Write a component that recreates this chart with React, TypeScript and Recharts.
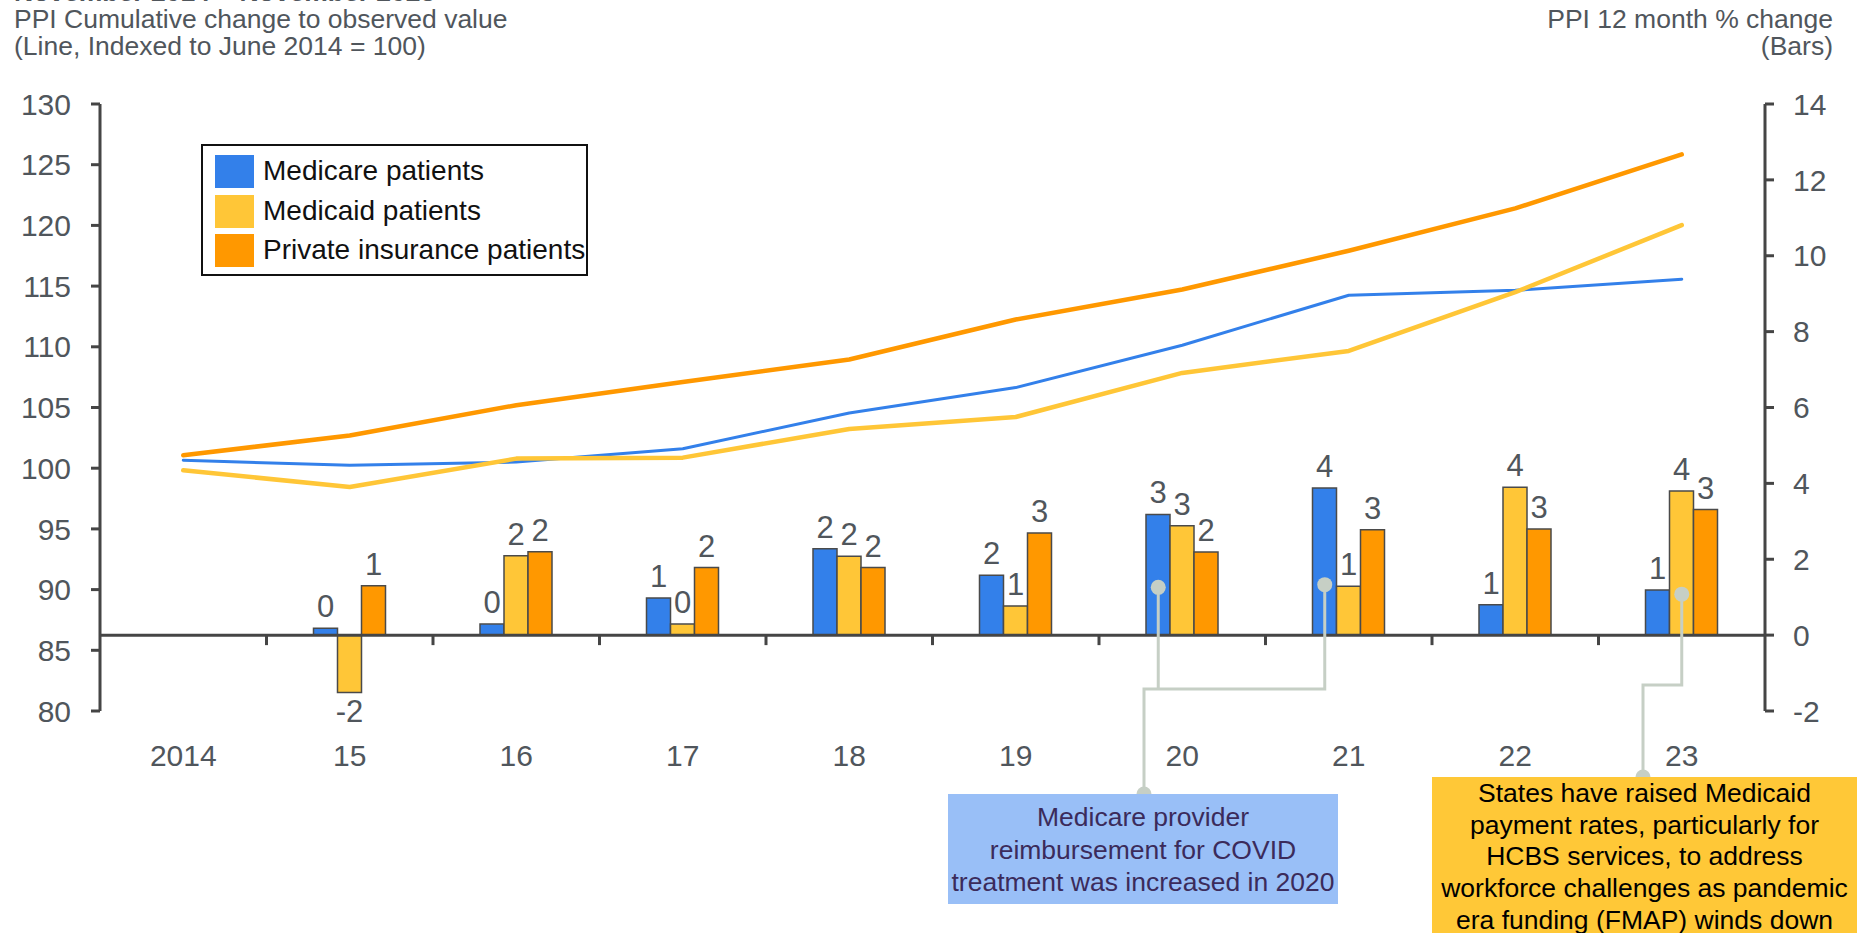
import {
  ComposedChart,
  Bar,
  Line,
  XAxis,
  YAxis,
  Legend,
  LabelList,
  ReferenceLine,
} from 'recharts'

const years = ['2014', '15', '16', '17', '18', '19', '20', '21', '22', '23']

// lines, left axis (indexed to June 2014 = 100)
const medicareIndex = [100.65, 100.24, 100.51, 101.6, 104.55, 106.64, 110.13, 114.25, 114.65, 115.57]
const medicaidIndex = [99.83, 98.45, 100.79, 100.87, 103.23, 104.22, 107.85, 109.66, 114.5, 120.02]
const privateIndex = [101.06, 102.7, 105.19, 107.1, 108.95, 112.25, 114.72, 117.91, 121.4, 125.85]

// bars, right axis (12 month % change)
const medicareChange = [null, 0.18, 0.29, 0.98, 2.28, 1.58, 3.18, 3.88, 0.8, 1.19]
const medicaidChange = [null, -1.51, 2.09, 0.29, 2.08, 0.77, 2.88, 1.29, 3.9, 3.8]
const privateChange = [null, 1.3, 2.2, 1.78, 1.78, 2.69, 2.19, 2.78, 2.8, 3.31]

const leftTicks = [80, 85, 90, 95, 100, 105, 110, 115, 120, 125, 130]
const rightTicks = [-2, 0, 2, 4, 6, 8, 10, 12, 14]

// legend order follows the bars
const barKeys = ['medicareChange', 'medicaidChange', 'privateChange']

const data = years.map((year, i) => ({
  year,
  medicareIndex: medicareIndex[i],
  medicaidIndex: medicaidIndex[i],
  privateIndex: privateIndex[i],
  medicareChange: medicareChange[i],
  medicaidChange: medicaidChange[i],
  privateChange: privateChange[i],
}))

const FONT = '"Liberation Sans", Arial, Helvetica, sans-serif'
const GREY_TEXT = '#50565c'
const AXIS = '#454545'
const BLUE = '#3380ea'
const YELLOW = '#ffc637'
const ORANGE = '#ff9800'
const CONNECTOR = '#c6cfc5'

const W = 1857
const H = 933
const PLOT_TOP = 104
const LEFT_AXIS_W = 100
const RIGHT_AXIS_W = 92
const X_AXIS_H = 222
const PLOT_LEFT = LEFT_AXIS_W
const PLOT_RIGHT = W - RIGHT_AXIS_W
const PLOT_BOTTOM = H - X_AXIS_H
const BAND = (PLOT_RIGHT - PLOT_LEFT) / years.length
const BAR = 24
const R_MIN = -2
const R_MAX = 14

const catX = (i: number) => PLOT_LEFT + BAND * (i + 0.5)
const rightY = (v: number) =>
  PLOT_TOP + ((R_MAX - v) / (R_MAX - R_MIN)) * (PLOT_BOTTOM - PLOT_TOP)
const zeroY = rightY(0)

function XTick(props: any) {
  const { x, index, payload } = props
  return (
    <g>
      {index > 0 && (
        <line
          x1={x - BAND / 2}
          x2={x - BAND / 2}
          y1={zeroY}
          y2={zeroY + 10}
          stroke={AXIS}
          strokeWidth={3}
        />
      )}
      <text
        x={x}
        y={PLOT_BOTTOM + 55}
        textAnchor="middle"
        fontSize={30}
        fontFamily={FONT}
        fill={GREY_TEXT}
      >
        {payload.value}
      </text>
    </g>
  )
}

function BarValue(props: any) {
  const { x, y, width, height, value } = props
  if (value == null) return null
  const top = Math.min(y, y + height)
  const bottom = Math.max(y, y + height)
  const ty = value >= 0 ? top - 11 : bottom + 30
  return (
    <text
      x={x + width / 2}
      y={ty}
      textAnchor="middle"
      fontSize={31}
      fontFamily={FONT}
      fill={GREY_TEXT}
    >
      {Math.round(value)}
    </text>
  )
}

function LegendBox({ payload }: any) {
  const items = (payload || [])
    .filter((e: any) => barKeys.includes(e.dataKey))
    .sort((a: any, b: any) => barKeys.indexOf(a.dataKey) - barKeys.indexOf(b.dataKey))
  return (
    <div
      style={{
        position: 'relative',
        width: 387,
        height: 132,
        border: '2px solid #111',
        boxSizing: 'border-box',
        background: '#fff',
        fontFamily: FONT,
      }}
    >
      {items.map((entry: any, i: number) => (
        <div key={entry.dataKey}>
          <div
            style={{
              position: 'absolute',
              left: 12,
              top: 9 + i * 39.5,
              width: 39,
              height: 33,
              background: entry.color,
            }}
          />
          <div
            style={{
              position: 'absolute',
              left: 60,
              top: 11 + i * 39.5,
              fontSize: 28,
              lineHeight: '28px',
              color: '#111',
              whiteSpace: 'nowrap',
            }}
          >
            {entry.value}
          </div>
        </div>
      ))}
    </div>
  )
}

const covidNote = ['Medicare provider', 'reimbursement for COVID', 'treatment was increased in 2020']
const medicaidNote = [
  'States have raised Medicaid',
  'payment rates, particularly for',
  'HCBS services, to address',
  'workforce challenges as pandemic',
  'era funding (FMAP) winds down',
]

function Connectors() {
  const d1 = { x: catX(6) - BAR, y: rightY(1.26) }
  const d2 = { x: catX(7) - BAR, y: rightY(1.33) }
  const d3 = { x: catX(9), y: rightY(1.08) }
  const joint1 = 689
  const joint2 = 685
  const box1 = { x: 1144, y: 794 }
  const box2 = { x: 1643, y: 777 }
  return (
    <svg
      width={W}
      height={H}
      style={{ position: 'absolute', left: 0, top: 0, pointerEvents: 'none' }}
    >
      <g fill="none" stroke={CONNECTOR} strokeWidth={3}>
        <path d={`M${d1.x},${d1.y} V${joint1}`} />
        <path d={`M${d2.x},${d2.y} V${joint1} H${box1.x} V${box1.y}`} />
        <path d={`M${d3.x},${d3.y} V${joint2} H${box2.x} V${box2.y}`} />
      </g>
      <g fill={CONNECTOR}>
        {[d1, d2, d3, box1, box2].map((p, i) => (
          <circle key={i} cx={p.x} cy={p.y} r={7.5} />
        ))}
      </g>
    </svg>
  )
}

export default function App() {
  return (
    <div
      style={{
        position: 'absolute',
        left: 0,
        top: 0,
        width: W,
        height: H,
        overflow: 'hidden',
        background: '#fff',
        fontFamily: FONT,
      }}
    >
      <div
        style={{
          position: 'absolute',
          left: 14,
          top: -21,
          fontSize: 26.5,
          lineHeight: '27px',
          color: GREY_TEXT,
          whiteSpace: 'nowrap',
        }}
      >
        <div style={{ fontWeight: 'bold' }}>November 2014 – November 2023</div>
        <div>PPI Cumulative change to observed value</div>
        <div>(Line, Indexed to June 2014 = 100)</div>
      </div>
      <div
        style={{
          position: 'absolute',
          right: 24,
          top: 6,
          fontSize: 26.5,
          lineHeight: '27px',
          color: GREY_TEXT,
          textAlign: 'right',
          whiteSpace: 'nowrap',
        }}
      >
        <div>PPI 12 month % change</div>
        <div>(Bars)</div>
      </div>

      <div style={{ position: 'absolute', left: 0, top: 0 }}>
        <ComposedChart
          width={W}
          height={H}
          data={data}
          margin={{ top: PLOT_TOP, right: 0, bottom: 0, left: 0 }}
          barGap={0}
          barSize={BAR}
        >
          <XAxis
            dataKey="year"
            height={X_AXIS_H}
            axisLine={false}
            tickLine={false}
            interval={0}
            tick={(p: any) => <XTick {...p} />}
          />
          <YAxis
            yAxisId="left"
            orientation="left"
            width={LEFT_AXIS_W}
            domain={[80, 130]}
            ticks={leftTicks}
            interval={0}
            tickSize={9}
            tickMargin={20}
            axisLine={{ stroke: AXIS, strokeWidth: 3 }}
            tickLine={{ stroke: AXIS, strokeWidth: 3 }}
            tick={{ fill: GREY_TEXT, fontSize: 30, fontFamily: FONT }}
          />
          <YAxis
            yAxisId="right"
            orientation="right"
            width={RIGHT_AXIS_W}
            domain={[R_MIN, R_MAX]}
            ticks={rightTicks}
            interval={0}
            tickSize={9}
            tickMargin={19}
            axisLine={{ stroke: AXIS, strokeWidth: 3 }}
            tickLine={{ stroke: AXIS, strokeWidth: 3 }}
            tick={{ fill: GREY_TEXT, fontSize: 30, fontFamily: FONT }}
          />
          <Legend
            layout="vertical"
            align="center"
            verticalAlign="middle"
            wrapperStyle={{ left: 201, top: 144, width: 387, height: 132 }}
            content={(p: any) => <LegendBox {...p} />}
          />
          <Bar
            yAxisId="right"
            dataKey="medicareChange"
            name="Medicare patients"
            fill={BLUE}
            stroke="#4a4a4a"
            strokeWidth={1.5}
            isAnimationActive={false}
          >
            <LabelList dataKey="medicareChange" content={(p: any) => <BarValue {...p} />} />
          </Bar>
          <Bar
            yAxisId="right"
            dataKey="medicaidChange"
            name="Medicaid patients"
            fill={YELLOW}
            stroke="#4a4a4a"
            strokeWidth={1.5}
            isAnimationActive={false}
          >
            <LabelList dataKey="medicaidChange" content={(p: any) => <BarValue {...p} />} />
          </Bar>
          <Bar
            yAxisId="right"
            dataKey="privateChange"
            name="Private insurance patients"
            fill={ORANGE}
            stroke="#4a4a4a"
            strokeWidth={1.5}
            isAnimationActive={false}
          >
            <LabelList dataKey="privateChange" content={(p: any) => <BarValue {...p} />} />
          </Bar>
          <ReferenceLine yAxisId="right" y={0} stroke={AXIS} strokeWidth={3} />
          <Line
            yAxisId="left"
            type="linear"
            dataKey="medicareIndex"
            stroke={BLUE}
            strokeWidth={3}
            dot={false}
            legendType="none"
            strokeLinecap="round"
            strokeLinejoin="round"
            isAnimationActive={false}
          />
          <Line
            yAxisId="left"
            type="linear"
            dataKey="medicaidIndex"
            stroke={YELLOW}
            strokeWidth={4.5}
            dot={false}
            legendType="none"
            strokeLinecap="round"
            strokeLinejoin="round"
            isAnimationActive={false}
          />
          <Line
            yAxisId="left"
            type="linear"
            dataKey="privateIndex"
            stroke={ORANGE}
            strokeWidth={4.5}
            dot={false}
            legendType="none"
            strokeLinecap="round"
            strokeLinejoin="round"
            isAnimationActive={false}
          />
        </ComposedChart>
      </div>

      <Connectors />

      <div
        style={{
          position: 'absolute',
          left: 948,
          top: 794,
          width: 390,
          height: 110,
          background: '#99bff7',
          color: '#3b2b5b',
          fontSize: 26.5,
          lineHeight: '32.5px',
          textAlign: 'center',
          paddingTop: 7,
          boxSizing: 'border-box',
          whiteSpace: 'nowrap',
        }}
      >
        {covidNote.map((t) => (
          <div key={t}>{t}</div>
        ))}
      </div>
      <div
        style={{
          position: 'absolute',
          left: 1432,
          top: 777,
          width: W - 1432,
          height: H - 777,
          background: '#ffc837',
          color: '#000',
          fontSize: 26.5,
          lineHeight: '31.7px',
          textAlign: 'center',
          paddingTop: 1,
          boxSizing: 'border-box',
          whiteSpace: 'nowrap',
        }}
      >
        {medicaidNote.map((t) => (
          <div key={t}>{t}</div>
        ))}
      </div>
    </div>
  )
}
